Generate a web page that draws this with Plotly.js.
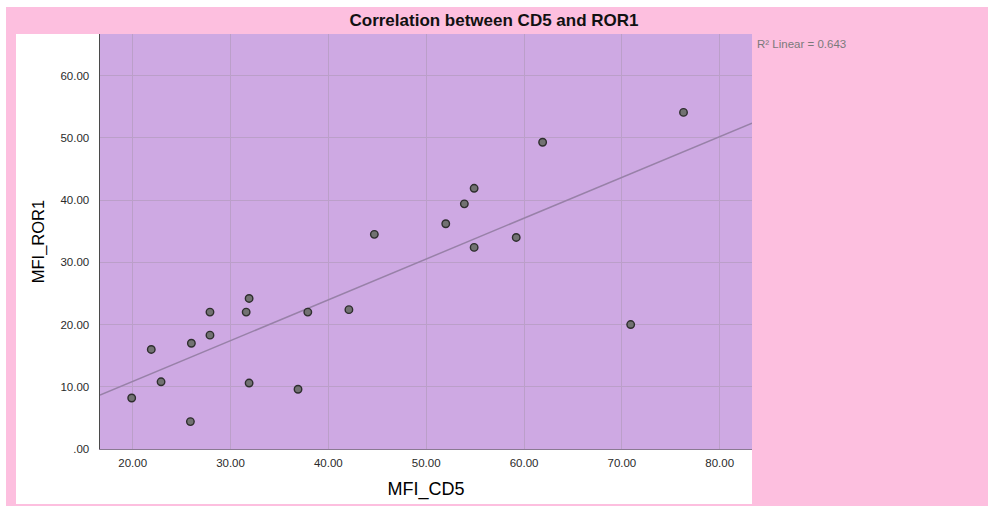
<!DOCTYPE html>
<html>
<head>
<meta charset="utf-8">
<script src="https://cdn.plot.ly/plotly-3.0.1.min.js"></script>
<style>
  html, body { margin: 0; padding: 0; background: #ffffff; }
  #chart { width: 988px; height: 506px; }
</style>
</head>
<body>
<div id="chart"></div>
<script>
// ---- Data ----
const mfiCD5  = [19.9, 21.9, 22.9, 25.9, 26.0, 27.9, 27.9, 31.6, 31.9, 31.9, 36.9,
                 37.9, 42.1, 44.7, 52.0, 53.9, 54.9, 54.9, 59.2, 61.9, 70.9, 76.3];
const mfiROR1 = [8.2, 16.0, 10.8, 4.4, 17.0, 18.3, 22.0, 22.0, 24.2, 10.6, 9.6,
                 22.0, 22.4, 34.5, 36.2, 39.4, 41.9, 32.4, 34.0, 49.3, 20.0, 54.1];
const xTickVals = [20, 30, 40, 50, 60, 70, 80];
const xTickText = ["20.00", "30.00", "40.00", "50.00", "60.00", "70.00", "80.00"];
const yTickVals = [0, 10, 20, 30, 40, 50, 60];
const yTickText = [".00", "10.00", "20.00", "30.00", "40.00", "50.00", "60.00"];
const chartTitle = "Correlation between CD5 and ROR1";
const xTitle = "MFI_CD5";
const yTitle = "MFI_ROR1";
const r2Label = "R² Linear = 0.643";

// axis ranges
const xRange = [16.66, 83.3];
const yRange = [0, 66.7];

// ---- Least-squares fit line computed from the data ----
const n = mfiCD5.length;
const mx = mfiCD5.reduce((a, b) => a + b, 0) / n;
const my = mfiROR1.reduce((a, b) => a + b, 0) / n;
let sxy = 0, sxx = 0;
for (let i = 0; i < n; i++) {
  sxy += (mfiCD5[i] - mx) * (mfiROR1[i] - my);
  sxx += (mfiCD5[i] - mx) * (mfiCD5[i] - mx);
}
const slope = sxy / sxx;
const intercept = my - slope * mx;
const fitX = xRange.slice();
const fitY = fitX.map(v => intercept + slope * v);

// ---- Colours ----
const pink = "#fdbfdf";
const purple = "#cea9e3";
const gridCol = "#bb9fc9";

const traces = [
  {
    x: fitX, y: fitY, type: "scatter", mode: "lines",
    line: { color: "#9881a8", width: 1.5 },
    hoverinfo: "skip", showlegend: false
  },
  {
    x: mfiCD5, y: mfiROR1, type: "scatter", mode: "markers",
    marker: { size: 7.5, color: "#727272", line: { color: "#2e2e2e", width: 1.4 } },
    showlegend: false
  }
];

const layout = {
  width: 988, height: 506,
  margin: { l: 100, r: 236, t: 34, b: 57, pad: 0 },
  paper_bgcolor: "#ffffff",
  plot_bgcolor: purple,
  font: { family: "Liberation Sans, Arial, sans-serif", color: "#333333" },
  title: {
    text: chartTitle,
    font: { size: 17, color: "#111111", weight: "bold" },
    x: 0.5, xref: "container", xanchor: "center",
    y: 1 - 20 / 506, yref: "container", yanchor: "middle"
  },
  xaxis: {
    range: xRange, tickvals: xTickVals, ticktext: xTickText,
    showgrid: true, gridcolor: gridCol, gridwidth: 1,
    zeroline: false, showline: true, linecolor: "#8a7a92", linewidth: 1,
    ticks: "", ticklabelstandoff: 3,
    tickfont: { size: 11.5, color: "#2a2a2a" },
    title: { text: xTitle, font: { size: 18, color: "#000000" }, standoff: 14 },
    automargin: false, fixedrange: true
  },
  yaxis: {
    range: yRange, tickvals: yTickVals, ticktext: yTickText,
    showgrid: true, gridcolor: gridCol, gridwidth: 1,
    zeroline: false, showline: true, linecolor: "#4a4a4a", linewidth: 1.5,
    ticks: "", ticklabelstandoff: 7,
    tickfont: { size: 11.5, color: "#2a2a2a" },
    title: { text: yTitle, font: { size: 16.5, color: "#000000" }, standoff: 11 },
    automargin: false, fixedrange: true
  },
  shapes: [
    { type: "rect", xref: "paper", yref: "paper", layer: "below",
      x0: (6 - 100) / 652, x1: (988 - 100) / 652, y0: (449 - 506) / 415, y1: (449 - 7) / 415,
      fillcolor: pink, line: { width: 0 } },
    { type: "rect", xref: "paper", yref: "paper", layer: "below",
      x0: (16 - 100) / 652, x1: 1, y0: (449 - 504) / 415, y1: 1,
      fillcolor: "#ffffff", line: { width: 0 } },
    { type: "rect", xref: "paper", yref: "paper", layer: "below",
      x0: 0, x1: 1, y0: 0, y1: 1,
      fillcolor: purple, line: { width: 0 } }
  ],
  annotations: [
    { text: r2Label, xref: "paper", yref: "paper",
      x: (755 - 100) / 652, y: (449 - 44) / 415, xanchor: "left", yanchor: "middle",
      showarrow: false, font: { size: 11.5, color: "#7a7a7a" } }
  ]
};

Plotly.newPlot("chart", traces, layout, { displayModeBar: false, staticPlot: true });
</script>
</body>
</html>
